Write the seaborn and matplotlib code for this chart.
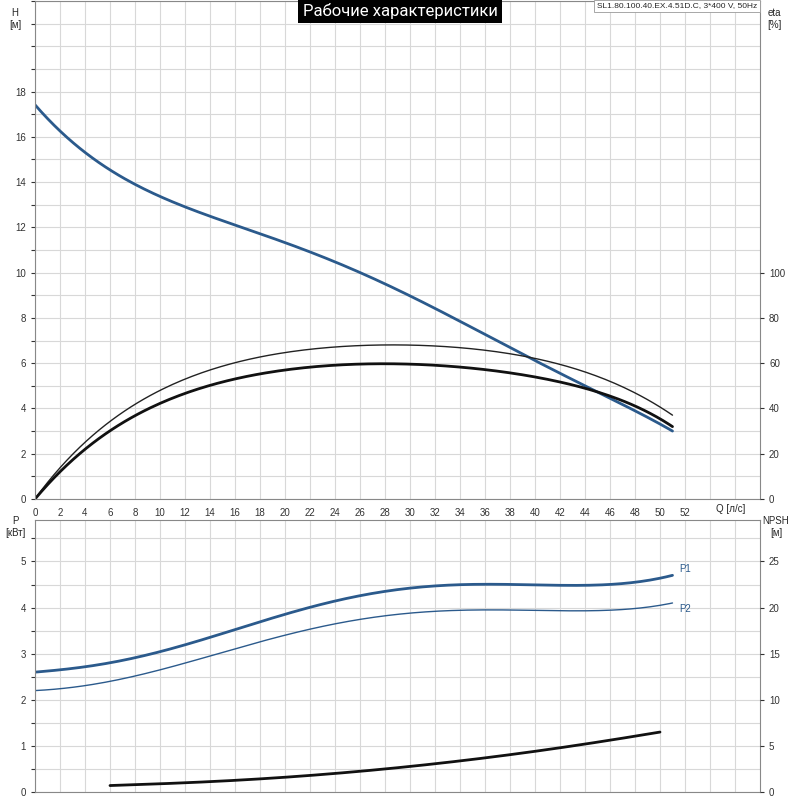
import numpy as np
import matplotlib
matplotlib.use("Agg")
import matplotlib.pyplot as plt
import seaborn as sns

# data
q_h = [0, 2, 4, 6, 8, 10, 12, 14, 16, 20, 24, 28, 32, 36, 40, 44, 48, 51]
h = [17.4, 16.3, 15.3, 14.5, 13.9, 13.4, 12.9, 12.5, 12.1, 11.3, 10.5, 9.5, 8.4, 7.3, 6.1, 5.0, 3.9, 3.0]
q_e = [0, 2, 4, 6, 8, 10, 12, 14, 16, 20, 24, 28, 32, 36, 40, 44, 48, 51]
eta1 = [0, 12, 22, 30, 37, 42, 47, 50, 53, 57, 59, 60, 59, 57, 54, 49, 41, 32]
eta2 = [0, 14, 25, 34, 42, 48, 53, 57, 60, 65, 67, 68, 67.5, 66, 62, 56, 47, 37]
q_p = [0, 6, 10, 14, 20, 24, 28, 32, 36, 40, 44, 48, 51]
p1 = [2.6, 2.8, 3.05, 3.35, 3.85, 4.15, 4.35, 4.47, 4.5, 4.5, 4.48, 4.55, 4.7]
p2 = [2.2, 2.4, 2.65, 2.95, 3.4, 3.65, 3.82, 3.92, 3.95, 3.94, 3.93, 3.98, 4.1]
q_n = [6, 12, 20, 28, 36, 44, 50]
npsh = [0.7, 1.0, 1.6, 2.5, 3.7, 5.2, 6.5]

sns.set_style("white")
plt.rcParams['font.family'] = ['Liberation Sans', 'DejaVu Sans']
blue = "#2b5a8c"
grid = "#d8d8d8"
fig = plt.figure(figsize=(8, 8), dpi=100)
ax = fig.add_axes([35/800, 1 - 499/800, 725/800, 498/800])
ax2 = fig.add_axes([35/800, 8/800, 725/800, 272/800])

def smooth(x, y, n=200):
    xs = np.linspace(x[0], x[-1], n)
    c = np.polyfit(x, y, min(7, len(x) - 1))
    return xs, np.polyval(c, xs)

for a, ymax in ((ax, 22), (ax2, 5.9)):
    a.set_xlim(0, 58)
    a.set_ylim(0, ymax)
    a.set_xticks(np.arange(0, 58, 2), minor=False)
    a.grid(True, color=grid, lw=0.8)
    for s in a.spines.values():
        s.set_color("#888888")
        s.set_linewidth(0.8)
    a.tick_params(labelsize=7, length=3, colors="#333333")

ax.set_yticks(np.arange(0, 23, 1))
ax.set_yticklabels([str(v) if v % 2 == 0 and v <= 18 else "" for v in range(23)])
ax.set_xticks(np.arange(0, 54, 2))
ax.set_xticks(np.arange(0, 58, 2), minor=True)
ax.grid(True, which="minor", color=grid, lw=0.8)
ax.set_xticklabels([str(v) for v in range(0, 54, 2)])

x, y = smooth(q_h, h)
sns.lineplot(x=x, y=y, ax=ax, color=blue, lw=2)
x, y = smooth(q_e, np.array(eta2) / 10)
sns.lineplot(x=x, y=y, ax=ax, color="#222222", lw=1)
x, y = smooth(q_e, np.array(eta1) / 10)
sns.lineplot(x=x, y=y, ax=ax, color="#111111", lw=2)

axr = ax.twinx()
axr.set_ylim(0, 220)
axr.set_yticks(np.arange(0, 101, 20))
axr.tick_params(labelsize=7, length=3, colors="#333333")
for s in axr.spines.values():
    s.set_visible(False)

ax2.set_yticks(np.arange(0, 6, 0.5))
ax2.set_yticklabels([str(int(v)) if v == int(v) else "" for v in np.arange(0, 6, 0.5)])
ax2.set_xticklabels([])
ax2.tick_params(axis="x", length=0)
x, y = smooth(q_p, p1)
sns.lineplot(x=x, y=y, ax=ax2, color=blue, lw=2)
x, y = smooth(q_p, p2)
sns.lineplot(x=x, y=y, ax=ax2, color=blue, lw=1)
ax2.text(51.5, p1[-1] + 0.03, "P1", fontsize=7, color=blue, va="bottom")
ax2.text(51.5, p2[-1] - 0.03, "P2", fontsize=7, color=blue, va="top")
axn = ax2.twinx()
axn.set_ylim(0, 29.5)
axn.set_yticks(np.arange(0, 26, 5))
axn.tick_params(labelsize=7, length=3, colors="#333333")
for s in axn.spines.values():
    s.set_visible(False)
x, y = smooth(q_n, npsh)
sns.lineplot(x=x, y=y, ax=axn, color="#111111", lw=2)

fs = 7
fig.text(15/800, 1 - 8/800, "H\n[м]", fontsize=fs, ha="center", va="top")
fig.text(774/800, 1 - 8/800, "eta\n[%]", fontsize=fs, ha="center", va="top")
fig.text(15/800, 1 - 516/800, "P\n[кВт]", fontsize=fs, ha="center", va="top")
fig.text(776/800, 1 - 516/800, "NPSH\n[м]", fontsize=fs, ha="center", va="top")
fig.text(745/800, 1 - 509/800, "Q [л/с]", fontsize=fs, ha="right", va="center")
fig.text(400/800, 1 - 11/800, "Рабочие характеристики", fontsize=12, color="white",
         ha="center", va="center", family=['Roboto', 'DejaVu Sans'],
         bbox=dict(facecolor="black", edgecolor="none", pad=3))
fig.text(757/800, 1 - 6/800, "SL1.80.100.40.EX.4.51D.C, 3*400 V, 50Hz", fontsize=6,
         ha="right", va="center",
         bbox=dict(facecolor="white", edgecolor="#999999", pad=2, lw=0.6))
fig.savefig("out.png", dpi=100)
